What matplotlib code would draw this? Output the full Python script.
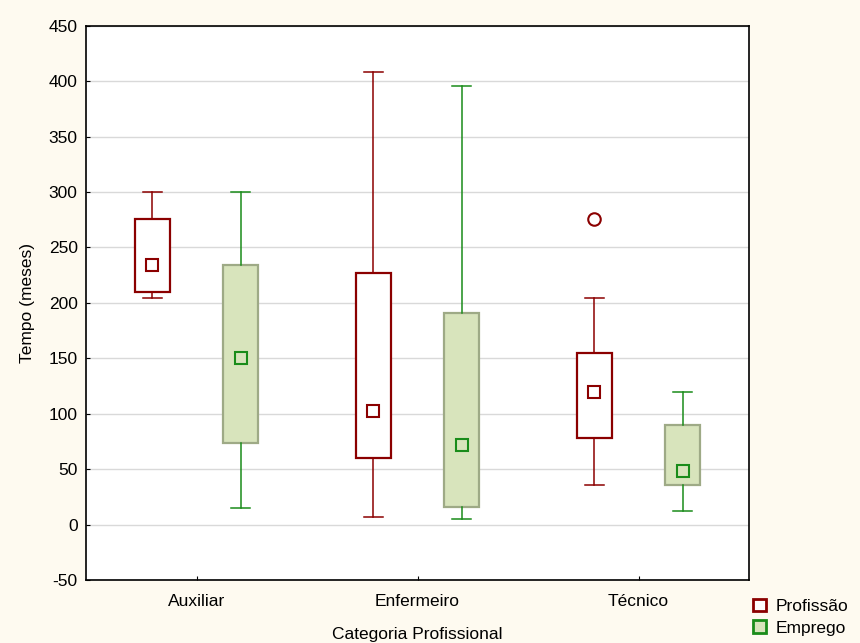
import matplotlib.pyplot as plt
import numpy as np
from matplotlib.patches import Patch

plt.rcParams['font.family'] = ['Liberation Sans', 'DejaVu Sans']
plt.rcParams['axes.unicode_minus'] = False

categorias = ['Auxiliar', 'Enfermeiro', 'Técnico']

# Profissão: whisker low, Q1, mediana, Q3, whisker high
prof_whislo = [204, 7, 36]
prof_q1 = [210, 60, 78]
prof_med = [234, 102, 120]
prof_q3 = [276, 227, 155]
prof_whishi = [300, 408, 204]
prof_outliers = [[], [], [276]]

# Emprego
emp_whislo = [15, 5, 12]
emp_q1 = [74, 16, 36]
emp_med = [150, 72, 48]
emp_q3 = [234, 191, 90]
emp_whishi = [300, 396, 120]
emp_outliers = [[], [], []]

red = '#8B0000'
green = '#1A8C1A'
fill_green = '#D8E4BC'
edge_green = '#9EAA86'
bg = '#FEFAF0'


def stats(lo, q1, med, q3, hi, fl):
    return [dict(whislo=a, q1=b, med=c, q3=d, whishi=e, fliers=f, mean=c)
            for a, b, c, d, e, f in zip(lo, q1, med, q3, hi, fl)]


fig = plt.figure(figsize=(8.6, 6.43), dpi=100, facecolor=bg)
ax = fig.add_axes([0.1, 0.098, 0.771, 0.862])

x = np.arange(len(categorias))
w = 0.16

ax.bxp(stats(prof_whislo, prof_q1, prof_med, prof_q3, prof_whishi, prof_outliers),
       positions=x - 0.2, widths=w, patch_artist=True, showmeans=True,
       boxprops=dict(facecolor='white', edgecolor=red, linewidth=1.6),
       whiskerprops=dict(color=red, linewidth=1.1),
       capprops=dict(color=red, linewidth=1.1),
       medianprops=dict(linewidth=0),
       meanprops=dict(marker='s', markersize=9, markerfacecolor='none',
                      markeredgecolor=red, markeredgewidth=1.5),
       flierprops=dict(marker='o', markersize=9, markerfacecolor='none',
                       markeredgecolor=red, markeredgewidth=1.5),
       capwidths=w * 0.55, zorder=3)

ax.bxp(stats(emp_whislo, emp_q1, emp_med, emp_q3, emp_whishi, emp_outliers),
       positions=x + 0.2, widths=w, patch_artist=True, showmeans=True,
       boxprops=dict(facecolor=fill_green, edgecolor=edge_green, linewidth=1.6),
       whiskerprops=dict(color=green, linewidth=1.1),
       capprops=dict(color=green, linewidth=1.1),
       medianprops=dict(linewidth=0),
       meanprops=dict(marker='s', markersize=9, markerfacecolor='none',
                      markeredgecolor=green, markeredgewidth=1.5),
       capwidths=w * 0.55, zorder=3)

ax.set_xlim(-0.5, 2.5)
ax.set_ylim(-50, 450)
ax.set_yticks(np.arange(-50, 451, 50))
ax.set_xticks(x)
ax.set_xticklabels(categorias)
ax.yaxis.grid(True, color='#D9D9D9', linewidth=1)
ax.set_axisbelow(True)
ax.tick_params(direction='in', length=3, labelsize=12.5)
ax.tick_params(axis='x', pad=10)
ax.tick_params(axis='y', pad=6)
for s in ax.spines.values():
    s.set_linewidth(1.2)

ax.set_xlabel('Categoria Profissional', fontsize=12.5, labelpad=13)
ax.set_ylabel('Tempo (meses)', fontsize=12.5, labelpad=10)

handles = [Patch(facecolor='white', edgecolor=red, linewidth=2, label='Profissão'),
           Patch(facecolor=fill_green, edgecolor=green, linewidth=2, label='Emprego')]
fig.legend(handles=handles, loc='lower right', bbox_to_anchor=(1.003, -0.01),
           frameon=False, fontsize=12.5, handlelength=0.75, handleheight=0.75,
           handletextpad=0.55, labelspacing=0.35, borderpad=0.3)

fig.savefig('out.png', dpi=100, facecolor=bg)
